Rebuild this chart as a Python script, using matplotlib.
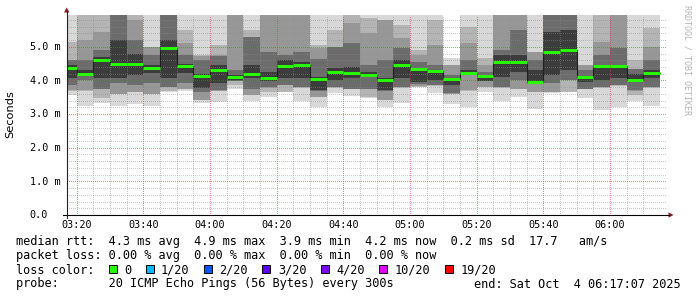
import matplotlib
matplotlib.use("Agg")
import matplotlib.pyplot as plt
from matplotlib.patches import Rectangle, Polygon
from matplotlib.lines import Line2D
from matplotlib.transforms import blended_transform_factory, ScaledTranslation
import numpy as np

plt.rcParams["lines.scale_dashes"] = False

# ---------------- data ----------------
bin_starts = ["03:15", "03:20", "03:25", "03:30", "03:35", "03:40", "03:45", "03:50", "03:55",
              "04:00", "04:05", "04:10", "04:15", "04:20", "04:25", "04:30", "04:35", "04:40",
              "04:45", "04:50", "04:55", "05:00", "05:05", "05:10", "05:15", "05:20", "05:25",
              "05:30", "05:35", "05:40", "05:45", "05:50", "05:55", "06:00", "06:05", "06:10"]
bin_minutes = 5
window_start = "03:17:07"
window_end = "06:17:07"

median_ms = [4.36, 4.19, 4.62, 4.49, 4.49, 4.38, 4.95, 4.43, 4.13, 4.32, 4.10, 4.19,
             4.07, 4.43, 4.47, 4.04, 4.24, 4.21, 4.16, 4.01, 4.45, 4.34, 4.28, 4.05,
             4.23, 4.12, 4.55, 4.54, 3.95, 4.84, 4.90, 4.11, 4.43, 4.43, 4.01, 4.21]

# smoke bands (outer -> inner), lower and upper edges in ms
lo1 = [3.56, 3.24, 3.34, 3.24, 3.30, 3.24, 3.67, 3.68, 3.34, 3.37, 3.76, 3.40,
       3.50, 3.66, 3.40, 3.21, 3.63, 3.54, 3.49, 3.21, 3.34, 3.80, 3.62, 3.30,
       3.22, 3.66, 3.40, 3.51, 3.14, 3.64, 3.65, 3.47, 3.12, 3.22, 3.40, 3.24]
lo2 = [3.70, 3.70, 3.47, 3.60, 3.65, 3.60, 3.68, 3.75, 3.41, 3.69, 3.86, 3.56,
       3.65, 3.67, 3.79, 3.51, 3.79, 3.74, 3.50, 3.41, 3.79, 3.81, 3.84, 3.60,
       3.70, 3.80, 3.79, 3.75, 3.65, 3.65, 3.66, 3.74, 3.79, 3.84, 3.56, 3.79]
lo3 = [3.71, 3.71, 3.75, 3.61, 3.66, 3.61, 3.80, 3.76, 3.42, 3.70, 3.98, 3.57,
       3.79, 3.85, 3.80, 3.52, 3.80, 3.75, 3.75, 3.42, 3.80, 3.82, 3.85, 3.61,
       3.71, 3.81, 3.80, 3.76, 3.66, 3.66, 4.00, 3.75, 3.80, 3.85, 3.70, 3.80]
lo4 = [3.86, 4.01, 3.76, 3.91, 3.86, 3.91, 3.81, 3.91, 3.66, 3.71, 3.99, 3.76,
       3.80, 3.86, 3.81, 3.70, 3.81, 3.76, 3.76, 3.70, 3.81, 3.90, 3.86, 3.62,
       4.15, 3.97, 3.81, 4.01, 3.89, 3.91, 4.01, 3.76, 3.81, 3.86, 3.71, 3.81]
lo5 = [4.06, 4.16, 4.06, 4.06, 4.16, 4.21, 4.06, 4.21, 3.78, 3.91, 4.01, 4.06,
       3.99, 4.06, 4.06, 3.71, 4.01, 4.06, 4.11, 3.71, 4.06, 3.96, 4.01, 3.86,
       4.16, 3.98, 4.11, 4.26, 3.90, 4.16, 4.31, 3.96, 4.01, 4.06, 3.98, 4.06]
hi5 = [4.46, 4.30, 4.70, 5.20, 4.80, 4.46, 5.20, 4.50, 4.20, 4.46, 4.16, 4.46,
       4.26, 4.60, 4.55, 4.10, 4.36, 4.40, 4.26, 4.06, 4.60, 4.36, 4.31, 4.08,
       4.31, 4.16, 4.75, 4.75, 4.31, 5.45, 5.50, 4.14, 4.46, 4.45, 4.20, 4.31]
hi4 = [4.60, 4.60, 4.90, 6.10, 5.20, 4.75, 6.10, 4.75, 4.60, 4.74, 4.31, 5.29,
       4.85, 4.75, 4.85, 4.65, 4.99, 5.10, 4.46, 4.60, 4.95, 4.55, 4.46, 4.16,
       4.60, 4.26, 4.90, 5.50, 4.60, 6.10, 6.10, 4.31, 4.75, 4.95, 4.34, 4.60]
hi3 = [4.62, 5.20, 5.45, 6.20, 5.79, 5.00, 6.20, 5.10, 4.74, 4.75, 6.10, 5.30,
       6.10, 6.10, 6.10, 4.95, 5.00, 5.70, 5.40, 5.79, 5.25, 4.75, 5.05, 4.45,
       5.10, 4.46, 6.10, 6.10, 4.84, 6.20, 6.20, 4.45, 5.15, 6.10, 4.35, 5.00]
hi2 = [5.15, 6.20, 6.20, 6.40, 6.00, 5.00, 6.40, 5.50, 4.75, 5.05, 6.20, 5.50,
       6.20, 6.20, 6.20, 5.05, 5.50, 6.20, 5.85, 5.80, 5.65, 4.90, 5.79, 4.46,
       5.60, 4.66, 6.20, 6.20, 4.85, 6.40, 6.40, 4.46, 6.20, 6.20, 4.60, 5.55]
hi1 = [6.40, 6.40, 6.40, 6.50, 6.40, 6.30, 6.50, 6.30, 6.30, 6.30, 6.40, 6.30,
       6.40, 6.40, 6.40, 6.30, 6.30, 6.40, 6.30, 6.30, 6.30, 6.20, 6.30, 4.66,
       6.30, 6.30, 6.40, 6.40, 6.20, 6.50, 6.50, 6.20, 6.40, 6.40, 6.30, 6.30]

y_top = 5.96
y_major = [0, 1, 2, 3, 4, 5]
y_tick_labels = ["0.0", "1.0 m", "2.0 m", "3.0 m", "4.0 m", "5.0 m"]
y_minor_step = 0.2
x_tick_labels = ["03:20", "03:40", "04:00", "04:20", "04:40", "05:00", "05:20", "05:40", "06:00"]

loss_labels = ["0", "1/20", "2/20", "3/20", "4/20", "10/20", "19/20"]
loss_colors = ["#26ff00", "#00b8ff", "#0059ff", "#5e00ff", "#7e00ff", "#dd00ff", "#ff0000"]

legend_rtt = "median rtt:  4.3 ms avg  4.9 ms max  3.9 ms min  4.2 ms now  0.2 ms sd  17.7   am/s"
legend_loss = "packet loss: 0.00 % avg  0.00 % max  0.00 % min  0.00 % now"
legend_color = "loss color:"
legend_probe = "probe:       20 ICMP Echo Pings (56 Bytes) every 300s"
legend_end = "end: Sat Oct  4 06:17:07 2025"
side_text = "RRDTOOL / TOBI OETIKER"

smoke_colors = ["#d8d8d8", "#b4b4b4", "#979797", "#6c6c6c", "#3c3c3c"]

# ---------------- helpers ----------------
def tmin(s):
    p = [int(v) for v in s.split(":")]
    return p[0] * 60 + p[1] + (p[2] / 60.0 if len(p) > 2 else 0.0)

W, H = 697, 297
fig = plt.figure(figsize=(W / 100, H / 100), dpi=100)
fig.patch.set_facecolor("white")

def fx(px):
    return px / W

def fy(py):
    return 1 - py / H

MONO = "DejaVu Sans Mono"

ax = fig.add_axes([fx(67), fy(215), 600 / W, 200.5 / H])
ax.set_facecolor("white")
for s in ax.spines.values():
    s.set_visible(False)

t0, t1 = tmin(window_start), tmin(window_end)
ax.set_xlim(t0, t1)
ax.set_ylim(0, y_top)

starts = np.array([tmin(s) for s in bin_starts])
edges = np.append(starts, starts[-1] + bin_minutes)

def ext(a):
    a = np.asarray(a, float)
    return np.append(a, a[-1])

los = [lo1, lo2, lo3, lo4, lo5]
his = [hi1, hi2, hi3, hi4, hi5]
for lo, hi, c in zip(los, his, smoke_colors):
    ax.fill_between(edges, ext(lo), ext(hi), step="post", color=c, linewidth=0,
                    antialiased=False, zorder=1)

# grid (dotted: 1px on, 2px off)
dot = (0, (0.72, 1.44))
ax.set_axisbelow(False)
ax.set_yticks(y_major)
ax.set_yticks(np.arange(0, y_top, y_minor_step), minor=True)
xt = [tmin(s) for s in x_tick_labels]
ax.set_xticks(xt)
ax.set_xticks(starts[1:], minor=True)
ax.tick_params(which="both", length=0, labelbottom=False, labelleft=False)
ax.grid(which="minor", color="#8c8c8c", alpha=0.45, linestyle=dot,
        linewidth=0.72, antialiased=False)
ax.grid(which="major", color="#d23c3c", alpha=0.6, linestyle=dot,
        linewidth=0.72, antialiased=False)

# median
ax.step(edges, ext(median_ms), where="post", color="#202020", linewidth=0.8, zorder=3)
hl = ax.hlines(median_ms, starts, starts + bin_minutes, colors=loss_colors[0],
               linewidth=2.1, zorder=4)
hl.set_capstyle("butt")

# axis lines & arrows
fig.add_artist(Line2D([fx(62.7), fx(669)], [fy(215), fy(215)], color="black", lw=0.8))
fig.add_artist(Line2D([fx(66.7), fx(66.7)], [fy(217.7), fy(11)], color="#202020", lw=0.8))
arrow_c = "#8b1a1a"
fig.add_artist(Polygon([[fx(673.5), fy(215)], [fx(668.5), fy(212.3)], [fx(668.5), fy(217.7)]],
                       closed=True, color=arrow_c, lw=0))
fig.add_artist(Polygon([[fx(66.7), fy(7.5)], [fx(64.0), fy(12.5)], [fx(69.4), fy(12.5)]],
                       closed=True, color=arrow_c, lw=0))

# tick labels
ty = blended_transform_factory(fig.transFigure, ax.transData) + \
    ScaledTranslation(0, -3.4 / 100, fig.dpi_scale_trans)
for v, lab in zip(y_major, y_tick_labels):
    ax.text(fx(29.5), v, lab, transform=ty, ha="left", va="baseline",
            family=MONO, fontsize=7.3, color="black")
tx = blended_transform_factory(ax.transData, fig.transFigure)
for v, lab in zip(xt, x_tick_labels):
    ax.text(v, fy(228.3), lab, transform=tx, ha="center", va="baseline",
            family=MONO, fontsize=7.3, color="black")

# axis title and side text
fig.text(fx(10.5), fy(114), "Seconds", rotation=90, ha="center", va="center",
         family="DejaVu Sans", fontsize=8.2, color="black")
fig.text(fx(687), fy(60), side_text, rotation=270, ha="center", va="center",
         family=MONO, fontsize=6.0, color="#b4b4b4")

# legend
FS = 8.55
CW = 7.15
fig.text(fx(16), fy(245.5), legend_rtt, family=MONO, fontsize=FS, va="baseline", ha="left")
fig.text(fx(16), fy(259.5), legend_loss, family=MONO, fontsize=FS, va="baseline", ha="left")
fig.text(fx(16), fy(273.5), legend_color, family=MONO, fontsize=FS, va="baseline", ha="left")
fig.text(fx(16), fy(287.5), legend_probe, family=MONO, fontsize=FS, va="baseline", ha="left")
fig.text(fx(681), fy(287.5), legend_end, family=MONO, fontsize=FS, va="baseline", ha="right")

bx = 108.7
for lab, col in zip(loss_labels, loss_colors):
    fig.add_artist(Rectangle((fx(bx), fy(273)), 8 / W, 8 / H, facecolor=col,
                             edgecolor="black", linewidth=0.7))
    tx0 = bx + 15.3
    fig.text(fx(tx0), fy(273.5), lab, family=MONO, fontsize=FS, va="baseline", ha="left")
    bx = tx0 + len(lab) * CW + 14.5

fig.savefig("out.png", dpi=100, facecolor="white")
